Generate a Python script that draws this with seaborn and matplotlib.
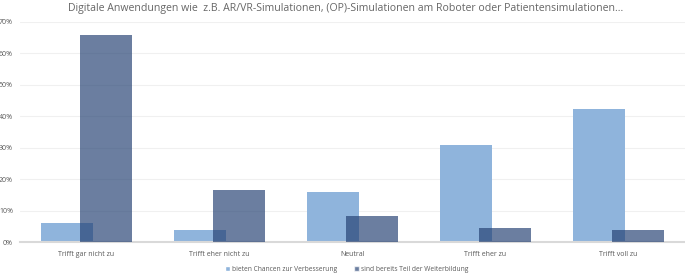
import matplotlib
matplotlib.use("Agg")
import matplotlib.pyplot as plt
import seaborn as sns
import pandas as pd
from matplotlib.ticker import PercentFormatter, MultipleLocator
from matplotlib.patches import Patch

categories = ["Trifft gar nicht zu", "Trifft eher nicht zu", "Neutral", "Trifft eher zu", "Trifft voll zu"]
series_names = ["bieten Chancen zur Verbesserung", "sind bereits Teil der Weiterbildung"]
chancen = [0.062, 0.039, 0.159, 0.310, 0.425]
weiterbildung = [0.657, 0.168, 0.084, 0.046, 0.039]
title = "Digitale Anwendungen wie  z.B. AR/VR-Simulationen, (OP)-Simulationen am Roboter oder Patientensimulationen..."

df = pd.DataFrame({
    "Kategorie": categories * 2,
    "Serie": [series_names[0]] * 5 + [series_names[1]] * 5,
    "Wert": chancen + weiterbildung,
})

sns.set_theme(style="white")
plt.rcParams["font.family"] = ["Open Sans", "DejaVu Sans"]

fig = plt.figure(figsize=(6.85, 2.74), dpi=100)
ax = fig.add_axes([0.029, 0.115, 0.971, 0.805])

light = "#8FB4DC"
dark = "#223F71"
sns.barplot(data=df, x="Kategorie", y="Wert", hue="Serie", order=categories,
            hue_order=series_names, palette=[light, dark], ax=ax,
            errorbar=None, legend=False, saturation=1)

# overlapping bars
bw = 0.39
off = 0.147
n = len(categories)
for i, p in enumerate(ax.patches[:2 * n]):
    s, c = divmod(i, n)
    center = c + (-off if s == 0 else off)
    p.set_width(bw)
    p.set_x(center - bw / 2)
    p.set_linewidth(0)
    if s == 1:
        p.set_alpha(0.67)
        p.set_zorder(3)
    else:
        p.set_zorder(2)

ax.set_xlim(-0.5, n - 0.5)
ax.set_ylim(0, 0.70)
ax.yaxis.set_major_locator(MultipleLocator(0.10))
ax.yaxis.set_major_formatter(PercentFormatter(1.0, decimals=0))
ax.grid(axis="y", color="#F0F0F0", linewidth=0.8, zorder=0)
ax.set_axisbelow(True)
for side in ["top", "right", "left"]:
    ax.spines[side].set_visible(False)
ax.spines["bottom"].set_color("#D9D9D9")
ax.spines["bottom"].set_linewidth(1.5)
ax.set_xlabel("")
ax.set_ylabel("")
ax.tick_params(axis="both", length=0, colors="#595959", labelsize=5)
ax.tick_params(axis="x", pad=6)
ax.tick_params(axis="y", pad=5)

fig.text(0.505, 0.968, title, ha="center", va="center", fontsize=7.6, color="#666666")

handles = [Patch(facecolor=light), Patch(facecolor=dark, alpha=0.67)]
fig.legend(handles, series_names, loc="center", bbox_to_anchor=(0.506, 0.018), ncol=2,
           frameon=False, fontsize=4.8, labelcolor="#595959", handlelength=0.7,
           handleheight=0.7, handletextpad=0.3, columnspacing=2.6)

fig.savefig("out.png", dpi=100)
